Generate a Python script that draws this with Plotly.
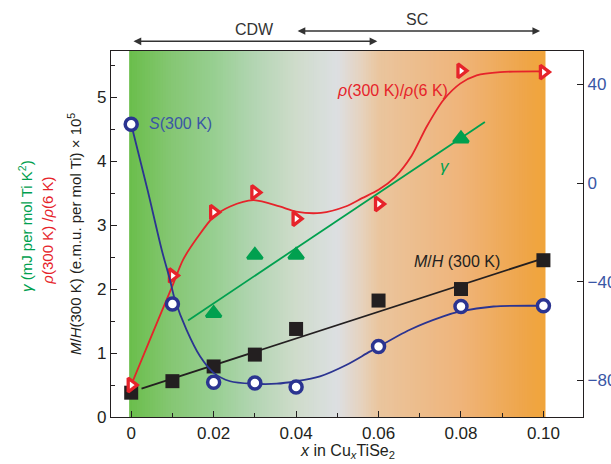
import plotly.graph_objects as go

# ---------------- data ----------------
x_vals = [0, 0.01, 0.02, 0.03, 0.04, 0.06, 0.08, 0.10]
mh_vals = [0.38, 0.56, 0.79, 0.975, 1.376, 1.82, 2.0, 2.45]
rho_vals = [0.50, 2.21, 3.20, 3.51, 3.10, 3.33, 5.41, 5.39]
s_vals = [23.9, -49.0, -80.7, -81.0, -82.6, -66.2, -50.0, -49.7]

gamma_x = [0.02, 0.03, 0.04, 0.08]
gamma_vals = [1.62, 2.53, 2.53, 4.35]

# guide lines / curves
mh_fit_x = [0.0025, 0.1]
mh_fit_y = [0.445, 2.48]
gamma_fit_x = [0.0138, 0.0858]
gamma_fit_y = [1.51, 4.61]
rho_curve_x = [0, 0.005, 0.01, 0.0126, 0.016, 0.02, 0.024, 0.0296, 0.036, 0.04, 0.046,
               0.052, 0.056, 0.06, 0.064, 0.068, 0.0717, 0.0757, 0.0798, 0.0838, 0.0895, 0.1]
rho_curve_y = [0.5, 1.28, 2.05, 2.46, 2.8, 3.13, 3.29, 3.39, 3.29, 3.21, 3.19,
               3.29, 3.42, 3.55, 3.75, 4.08, 4.54, 4.95, 5.21, 5.34, 5.39, 5.40]
s_curve_x = [0, 0.004, 0.0074, 0.0094, 0.0106, 0.0134, 0.0167, 0.02, 0.024, 0.0296, 0.0353,
             0.04, 0.0458, 0.0523, 0.058, 0.0676, 0.0757, 0.0798, 0.0879, 0.1]
s_curve_y = [23.9, -3, -27, -39.2, -47.2, -59.4, -70.2, -76.9, -80.3, -81.3, -81.3,
             -80.3, -78.3, -73.6, -68.2, -59.4, -54.0, -52.0, -50.0, -49.7]

# phase ranges (x in CuxTiSe2) for the arrows above the plot
cdw_range = [0.0002, 0.0597]
sc_range = [0.0400, 0.0992]

x_ticks = [0, 0.02, 0.04, 0.06, 0.08, 0.10]
x_tick_text = ["0", "0.02", "0.04", "0.06", "0.08", "0.10"]
y_ticks = [0, 1, 2, 3, 4, 5]
y2_ticks = [40, 0, -40, -80]
y2_tick_text = ["40", "0", "\u221240", "\u221280"]

# ---------------- style ----------------
FONT = "Liberation Sans Narrow, Arial Narrow, Liberation Sans, Arial, sans-serif"
BLACK = "#231f20"
RED = "#e6232a"
GREEN = "#00a04f"
BLUE = "#2b3491"
BLUE_TXT = "#3a56a5"
ARROW = "#333333"

fig = go.Figure()

# background gradient
stops = [(-0.0005, (106, 190, 75)), (0.01, (134, 199, 116)), (0.02, (151, 207, 145)),
         (0.03, (179, 213, 179)), (0.04, (207, 220, 203)), (0.05, (220, 223, 226)),
         (0.056, (230, 210, 189)), (0.06, (234, 197, 158)), (0.08, (239, 180, 122)),
         (0.095, (239, 166, 74)), (0.1005, (240, 164, 58))]


def col_at(xv):
    for (xa, ca), (xb, cb) in zip(stops[:-1], stops[1:]):
        if xa <= xv <= xb:
            t = (xv - xa) / (xb - xa)
            return "rgb(%d,%d,%d)" % tuple(round(a + (b - a) * t) for a, b in zip(ca, cb))
    return "rgb(%d,%d,%d)" % stops[-1][1]


N = 160
x0g, x1g = stops[0][0], stops[-1][0]
shapes = []
for i in range(N):
    a = x0g + (x1g - x0g) * i / N
    b = x0g + (x1g - x0g) * (i + 1) / N
    shapes.append(dict(type="rect", xref="x", yref="paper", x0=a, x1=b + (x1g - x0g) / N * 0.6 if i < N - 1 else b,
                       y0=0, y1=1, fillcolor=col_at((a + b) / 2), line=dict(width=0), layer="below"))

# lines
fig.add_trace(go.Scatter(x=s_curve_x, y=s_curve_y, yaxis="y2", mode="lines",
                         line=dict(color=BLUE, width=1.8, shape="spline", smoothing=0.8), hoverinfo="skip"))
fig.add_trace(go.Scatter(x=rho_curve_x, y=rho_curve_y, mode="lines",
                         line=dict(color=RED, width=1.8, shape="spline", smoothing=0.8), hoverinfo="skip"))
fig.add_trace(go.Scatter(x=gamma_fit_x, y=gamma_fit_y, mode="lines",
                         line=dict(color=GREEN, width=1.8), hoverinfo="skip"))
fig.add_trace(go.Scatter(x=mh_fit_x, y=mh_fit_y, mode="lines",
                         line=dict(color=BLACK, width=1.8), hoverinfo="skip"))

# markers
fig.add_trace(go.Scatter(x=x_vals, y=mh_vals, mode="markers",
                         marker=dict(symbol="square", size=14, color=BLACK, line=dict(width=0))))
fig.add_trace(go.Scatter(x=gamma_x, y=gamma_vals, mode="markers",
                         marker=dict(symbol="triangle-up", size=13, color=GREEN,
                                     line=dict(width=3, color=GREEN))))
fig.add_trace(go.Scatter(x=x_vals, y=rho_vals, mode="markers",
                         marker=dict(symbol="triangle-right", size=12, color="white",
                                     line=dict(width=3.3, color=RED))))
fig.add_trace(go.Scatter(x=x_vals, y=s_vals, yaxis="y2", mode="markers",
                         marker=dict(symbol="circle", size=12, color="white",
                                     line=dict(width=3.5, color=BLUE))))

LBL = 16
ann = []
# labels in plot
ann.append(dict(x=0.0038, y=4.58, xref="x", yref="y", text="<i>S</i>(300 K)", showarrow=False,
                xanchor="left", yanchor="middle", font=dict(color=BLUE_TXT, size=LBL)))
ann.append(dict(x=0.0495, y=5.11, xref="x", yref="y", text="<i>ρ</i>(300 K)/<i>ρ</i>(6 K)", showarrow=False,
                xanchor="left", yanchor="middle", font=dict(color=RED, size=LBL)))
ann.append(dict(x=0.0762, y=3.91, xref="x", yref="y", text="<i>γ</i>", showarrow=False,
                xanchor="center", yanchor="middle", font=dict(color=GREEN, size=LBL + 1)))
ann.append(dict(x=0.0681, y=2.43, xref="x", yref="y", text="<i>M</i>/<i>H</i> (300 K)", showarrow=False,
                xanchor="left", yanchor="middle", font=dict(color=BLACK, size=LBL)))
# phase arrows (above the plot area)
for rng, yp in ((cdw_range, 1.0265), (sc_range, 1.0546)):
    ann.append(dict(x=rng[1], y=yp, ax=rng[0], ay=0, xref="x", yref="paper", axref="x", ayref="pixel",
                    text="", showarrow=True, arrowhead=2, startarrowhead=2, arrowside="end+start",
                    arrowsize=1.1, startarrowsize=1.1, arrowwidth=1.4, arrowcolor=ARROW,
                    standoff=0, startstandoff=0))
ann.append(dict(x=0.0299, y=1.060, xref="x", yref="paper", text="CDW", showarrow=False,
                xanchor="center", yanchor="middle", font=dict(color=ARROW, size=16)))
ann.append(dict(x=0.0693, y=1.087, xref="x", yref="paper", text="SC", showarrow=False,
                xanchor="center", yanchor="middle", font=dict(color=ARROW, size=16)))
# axis titles
ann.append(dict(x=0.5, y=-0.094, xref="paper", yref="paper", showarrow=False,
                text="<i>x</i> in Cu<sub><i>x</i></sub>TiSe<sub>2</sub>",
                xanchor="center", yanchor="middle", font=dict(color=BLACK, size=16)))
ann.append(dict(x=-0.180, y=0.522, xref="paper", yref="paper", showarrow=False, textangle=-90,
                text="<i>γ</i> (mJ per mol Ti K<sup>2</sup>)",
                xanchor="center", yanchor="middle", font=dict(color=GREEN, size=15)))
ann.append(dict(x=-0.1336, y=0.509, xref="paper", yref="paper", showarrow=False, textangle=-90,
                text="<i>ρ</i>(300 K) /<i>ρ</i>(6 K)",
                xanchor="center", yanchor="middle", font=dict(color=RED, size=15)))
ann.append(dict(x=-0.0784, y=0.5, xref="paper", yref="paper", showarrow=False, textangle=-90,
                text="<i>M</i>/<i>H</i>(300 K) (e.m.u. per mol Ti) × 10<sup>5</sup>",
                xanchor="center", yanchor="middle", font=dict(color=BLACK, size=15)))

TICK = 17
fig.update_layout(
    width=611, height=464,
    margin=dict(l=111, r=28, t=51, b=46.5, pad=0, autoexpand=False),
    paper_bgcolor="white", plot_bgcolor="white",
    showlegend=False,
    font=dict(family=FONT, color=BLACK, size=16),
    shapes=shapes,
    annotations=ann,
    xaxis=dict(range=[-0.0049, 0.1096], showgrid=False, zeroline=False,
               showline=True, linecolor=BLACK, linewidth=1.3, mirror=True,
               ticks="inside", ticklen=6, tickwidth=1, tickcolor=BLACK,
               tickvals=x_ticks, ticktext=x_tick_text, tickfont=dict(size=TICK, color=BLACK),
               minor=dict(dtick=0.01, tick0=0, ticks="inside", ticklen=4, tickcolor=BLACK, tickwidth=1)),
    yaxis=dict(range=[0, 5.72], showgrid=False, zeroline=False,
               showline=True, linecolor=BLACK, linewidth=1.3,
               ticks="inside", ticklen=6, tickwidth=1, tickcolor=BLACK,
               tickvals=y_ticks, tickfont=dict(size=TICK, color=BLACK),
               minor=dict(dtick=0.5, tick0=0, ticks="inside", ticklen=4, tickcolor=BLACK, tickwidth=1)),
    yaxis2=dict(range=[-94.8, 53.6], overlaying="y", side="right", showgrid=False, zeroline=False,
                showline=True, linecolor=BLACK, linewidth=1.3,
                ticks="inside", ticklen=6, tickwidth=1, tickcolor=BLACK,
                tickvals=y2_ticks, ticktext=y2_tick_text, tickfont=dict(size=TICK, color=BLUE_TXT)),
)

fig.write_html("out.html", config={"displayModeBar": False},
               post_script="document.body.style.margin='0';document.body.style.overflow='hidden';")
